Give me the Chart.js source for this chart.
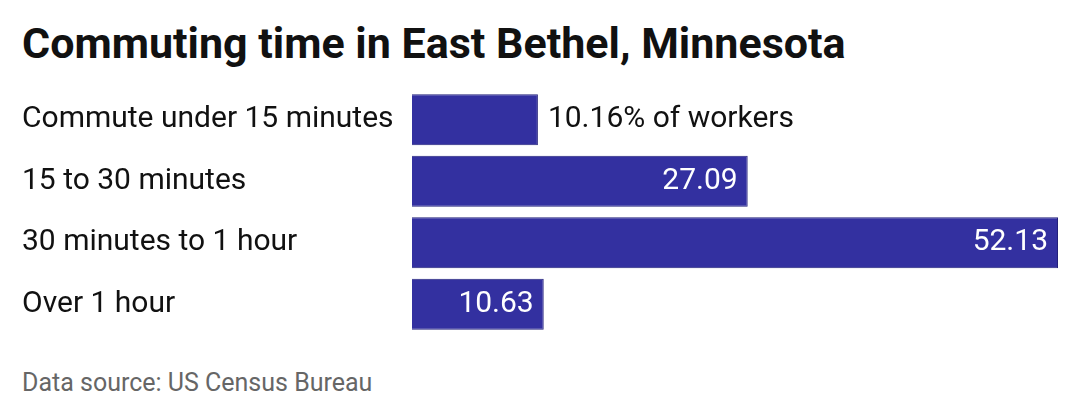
<!DOCTYPE html>
<html><head><meta charset="utf-8">
<script src="https://cdn.jsdelivr.net/npm/chart.js@4"></script>
<style>
body{margin:0;width:1080px;height:420px;background:#fff;font-family:Roboto,sans-serif;position:relative;overflow:hidden}
#t{position:absolute;left:22px;top:18px;font-size:43px;font-weight:700;color:#111}
#s{position:absolute;left:22px;top:368px;font-size:25px;color:#666}
#w{position:absolute;left:0;top:68px;width:1080px;height:288px}
</style></head><body>
<div id="t">Commuting time in East Bethel, Minnesota</div>
<div id="w"><canvas id="c"></canvas></div>
<div id="s">Data source: US Census Bureau</div>
<script>
const categories=["Commute under 15 minutes","15 to 30 minutes","30 minutes to 1 hour","Over 1 hour"];
const values=[10.16,27.09,52.13,10.63];
const valueLabels=["10.16% of workers","27.09","52.13","10.63"];
const lbl={id:'lbl',afterDatasetsDraw(ch){const ctx=ch.ctx;const m=ch.getDatasetMeta(0);ctx.save();ctx.font='30px Roboto';ctx.textBaseline='middle';
m.data.forEach((b,i)=>{if(i===0){ctx.fillStyle='#111';ctx.textAlign='left';ctx.fillText(valueLabels[i],b.x+10,b.y);}else{ctx.fillStyle='#fff';ctx.textAlign='right';ctx.fillText(valueLabels[i],b.x-10,b.y);}});ctx.restore();}};
new Chart(document.getElementById('c'),{type:'bar',data:{labels:categories,datasets:[{data:values,backgroundColor:'#3330a0',borderColor:'#23207a',borderWidth:1,barPercentage:0.83,categoryPercentage:1}]},
options:{indexAxis:'y',responsive:true,maintainAspectRatio:false,animation:false,layout:{padding:{left:22,right:22,top:0,bottom:0}},
plugins:{legend:{display:false},tooltip:{enabled:false}},
scales:{x:{display:false,min:0,max:52.13},y:{grid:{display:false},border:{display:false},afterFit(a){a.width=390;},ticks:{crossAlign:'far',color:'#111',font:{family:'Roboto',size:30}}}}},plugins:[lbl]});
</script></body></html>
